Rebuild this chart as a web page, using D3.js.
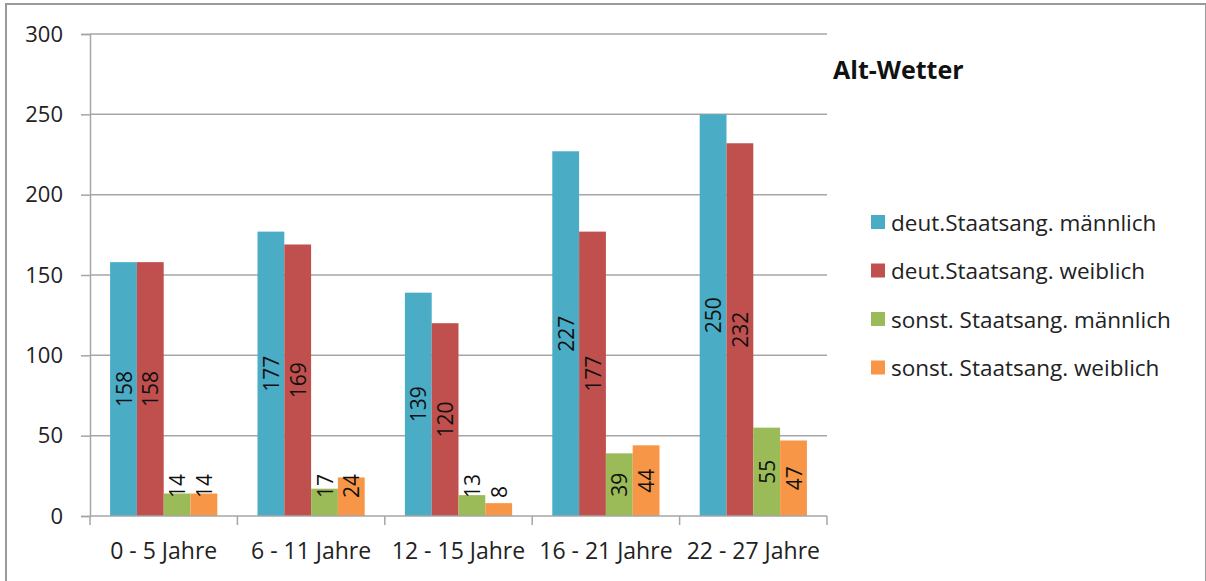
<!DOCTYPE html>
<html>
<head>
<meta charset="utf-8">
<script src="https://cdn.jsdelivr.net/npm/d3@7"></script>
<style>
  body { margin: 0; background: #fff; }
  svg { display: block; font-family: "Open Sans", Lato, sans-serif; }
</style>
</head>
<body>
<script>
// Data
const categories = ["0 - 5 Jahre", "6 - 11 Jahre", "12 - 15 Jahre", "16 - 21 Jahre", "22 - 27 Jahre"];
const seriesNames = ["deut.Staatsang. männlich", "deut.Staatsang. weiblich", "sonst. Staatsang. männlich", "sonst. Staatsang. weiblich"];
const deutMaennlich = [158, 177, 139, 227, 250];
const deutWeiblich = [158, 169, 120, 177, 232];
const sonstMaennlich = [14, 17, 13, 39, 55];
const sonstWeiblich = [14, 24, 8, 44, 47];
const yTicks = [0, 50, 100, 150, 200, 250, 300];
const colors = ["#4bacc6", "#c0504d", "#9bbb59", "#f79646"];
const chartTitle = "Alt-Wetter";

const seriesValues = [deutMaennlich, deutWeiblich, sonstMaennlich, sonstWeiblich];

const width = 1206, height = 581;
const plot = { left: 90, right: 827, top: 34, bottom: 516 };
const textFont = "\"Open Sans\", sans-serif";

const svg = d3.select("body").append("svg")
  .attr("width", width)
  .attr("height", height);

// outer frame
svg.append("rect")
  .attr("x", 6).attr("y", 4)
  .attr("width", width - 6).attr("height", height + 10)
  .attr("fill", "#fff")
  .attr("stroke", "#9a9a9a")
  .attr("stroke-width", 2);

const x0 = d3.scaleBand()
  .domain(categories)
  .range([plot.left, plot.right]);

const x1 = d3.scaleBand()
  .domain(seriesNames)
  .range([0, x0.bandwidth()])
  .paddingInner(0)
  .paddingOuter(0.75);

const y = d3.scaleLinear()
  .domain([0, 300])
  .range([plot.bottom, plot.top]);

// gridlines
svg.append("g")
  .selectAll("line")
  .data(yTicks.filter(t => t > 0))
  .join("line")
  .attr("x1", plot.left).attr("x2", plot.right)
  .attr("y1", d => y(d)).attr("y2", d => y(d))
  .attr("stroke", "#a6a6a6")
  .attr("stroke-width", 1.5);

// y axis
const yAxis = svg.append("g")
  .attr("transform", `translate(${plot.left},0)`)
  .call(d3.axisLeft(y).tickValues(yTicks).tickSize(9).tickPadding(18));
yAxis.select(".domain").attr("stroke", "#a6a6a6").attr("stroke-width", 1.5);
yAxis.selectAll(".tick line").attr("stroke", "#a6a6a6").attr("stroke-width", 1.5);
yAxis.selectAll(".tick text")
  .attr("font-size", 22)
  .attr("font-family", textFont)
  .attr("fill", "#222");

// bars
const groups = svg.append("g")
  .selectAll("g")
  .data(categories)
  .join("g")
  .attr("transform", d => `translate(${x0(d)},0)`);

const cells = groups.selectAll("g")
  .data((c, ci) => seriesNames.map((s, si) => ({ s, si, v: seriesValues[si][ci] })))
  .join("g");

cells.append("rect")
  .attr("x", d => x1(d.s))
  .attr("width", x1.bandwidth())
  .attr("y", d => y(d.v))
  .attr("height", d => y(0) - y(d.v))
  .attr("fill", d => colors[d.si]);

// value labels, rotated
const labelSize = 21;
cells.append("text")
  .text(d => d.v)
  .attr("font-size", labelSize)
  .attr("fill", "#111")
  .attr("text-anchor", "middle")
  .attr("dominant-baseline", "central")
  .attr("transform", function (d) {
    const len = String(d.v).length * labelSize * 0.57;
    const barMid = (y(d.v) + y(0)) / 2;
    const cy = Math.min(barMid, y(0) - 18 - len / 2);
    const cx = x1(d.s) + x1.bandwidth() / 2;
    return `translate(${cx},${cy}) rotate(-90)`;
  });

// x axis
const xAxis = svg.append("g")
  .attr("transform", `translate(0,${plot.bottom})`);
xAxis.append("line")
  .attr("x1", plot.left).attr("x2", plot.right)
  .attr("stroke", "#a6a6a6").attr("stroke-width", 1.5);
const bounds = categories.map(c => x0(c)).concat([plot.right]);
xAxis.selectAll("line.tick")
  .data(bounds)
  .join("line")
  .attr("class", "tick")
  .attr("x1", d => d).attr("x2", d => d)
  .attr("y1", 0).attr("y2", 9)
  .attr("stroke", "#a6a6a6").attr("stroke-width", 1.5);
xAxis.selectAll("text")
  .data(categories)
  .join("text")
  .attr("x", d => x0(d) + x0.bandwidth() / 2)
  .attr("y", 43)
  .attr("text-anchor", "middle")
  .attr("font-size", 23)
  .attr("fill", "#222")
  .text(d => d);

// title
svg.append("text")
  .attr("x", 833).attr("y", 79)
  .attr("font-size", 25)
  .attr("font-weight", "bold")
  .attr("fill", "#111")
  .text(chartTitle);

// legend
const legend = svg.append("g")
  .selectAll("g")
  .data(seriesNames)
  .join("g")
  .attr("transform", (d, i) => `translate(871,${222 + i * 48.5})`);
legend.append("rect")
  .attr("x", 0).attr("y", -7)
  .attr("width", 14).attr("height", 14)
  .attr("fill", (d, i) => colors[i]);
legend.append("text")
  .attr("x", 20)
  .attr("dominant-baseline", "central")
  .attr("font-size", 22.5)
  .attr("fill", "#222")
  .text(d => d);
</script>
</body>
</html>
